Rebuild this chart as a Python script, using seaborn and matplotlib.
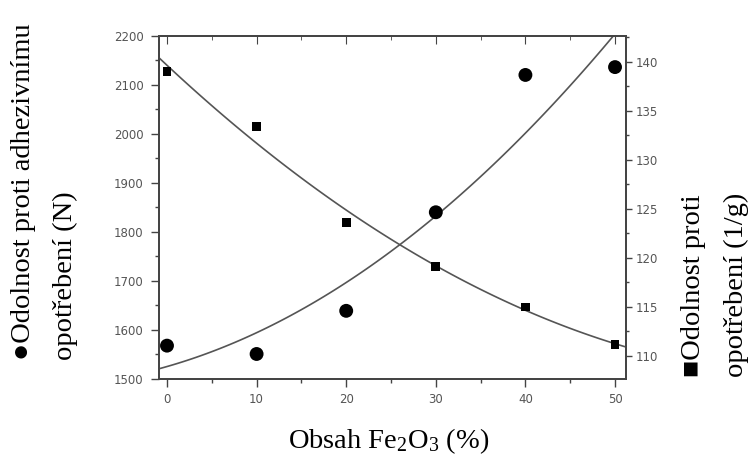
import numpy as np
import pandas as pd
import matplotlib
matplotlib.use("Agg")
import matplotlib.pyplot as plt
from matplotlib.ticker import MultipleLocator
import seaborn as sns

# --- data ---
obsah_fe2o3 = [0, 10, 20, 30, 40, 50]                       # %
adhezni_N = [1568, 1551, 1639, 1840, 2120, 2136]            # circles, left axis
opotrebeni_1g = [139.0, 133.4, 123.6, 119.1, 115.0, 111.2]  # squares, right axis

df = pd.DataFrame({"x": obsah_fe2o3, "adh": adhezni_N, "opo": opotrebeni_1g})

sns.set_style("ticks")
plt.rcParams["font.family"] = ["Liberation Serif", "DejaVu Sans"]
plt.rcParams["mathtext.fontset"] = "custom"
plt.rcParams["mathtext.rm"] = "Liberation Serif"
plt.rcParams["text.color"] = "black"

fig = plt.figure(figsize=(7.54, 4.59), dpi=100)
ax = fig.add_axes([0.2109, 0.1743, 0.6194, 0.7479])
ax.set_xlim(-0.89, 51.23)
ax.set_ylim(1500, 2200)
ax2 = ax.twinx()
ax2.set_ylim(107.65, 142.65)

line_kw = {"color": "#555555", "lw": 1.2}

# fitted curves (quadratic), drawn by seaborn
sns.regplot(data=df, x="x", y="adh", order=2, ci=None, scatter=False,
            truncate=False, line_kws=line_kw, ax=ax)
sns.regplot(data=df, x="x", y="opo", order=2, ci=None, scatter=False,
            truncate=False, line_kws=line_kw, ax=ax2)

# measured points
sns.scatterplot(data=df, x="x", y="adh", marker="o", s=100, color="black",
                edgecolor="none", ax=ax, zorder=5)
sns.scatterplot(data=df, x="x", y="opo", marker="s", s=40, color="black",
                edgecolor="none", ax=ax2, zorder=5)

ax.set_xlim(-0.89, 51.23)
ax.set_ylim(1500, 2200)
ax2.set_ylim(107.65, 142.65)

for a in (ax, ax2):
    a.set_xlabel("")
    a.set_ylabel("")
    for sp in a.spines.values():
        sp.set_color("#444444")
        sp.set_linewidth(1.3)

ax.xaxis.set_major_locator(MultipleLocator(10))
ax.xaxis.set_minor_locator(MultipleLocator(5))
ax.yaxis.set_major_locator(MultipleLocator(100))
ax.yaxis.set_minor_locator(MultipleLocator(50))
ax2.yaxis.set_major_locator(MultipleLocator(5))
ax2.yaxis.set_minor_locator(MultipleLocator(2.5))

ax.tick_params(axis="both", which="major", length=6, width=1, color="#444444",
               labelcolor="#555555", pad=4)
ax.tick_params(axis="both", which="minor", length=3, width=1, color="#444444")
ax.tick_params(axis="y", pad=5)
ax2.tick_params(axis="y", which="major", length=4, width=1, color="#444444",
                labelcolor="#555555", pad=3)
ax2.tick_params(axis="y", which="minor", length=2.5, width=1, color="#444444")
for lab in ax.get_xticklabels() + ax.get_yticklabels() + ax2.get_yticklabels():
    lab.set_fontfamily("DejaVu Sans")
    lab.set_fontsize(8.5)

# inward ticks along the top edge
top = ax.secondary_xaxis("top")
top.xaxis.set_major_locator(MultipleLocator(10))
top.xaxis.set_minor_locator(MultipleLocator(5))
top.tick_params(which="major", direction="in", length=6, color="#444444", labeltop=False)
top.tick_params(which="minor", direction="in", length=3, color="#444444")
top.spines["top"].set_visible(False)

# axis titles
lab_kw = {"rotation": 90, "ha": "center", "va": "bottom", "fontsize": 20.5,
          "color": "black", "family": ["Liberation Serif", "DejaVu Sans"]}
fig.text(24 / 754, 1 - 360 / 459, "\u25cfOdolnost proti adhezivnímu", **lab_kw)
fig.text(65 / 754, 1 - 360 / 459, "opotřebení (N)", **lab_kw)
fig.text(694 / 754, 1 - 377 / 459, "\u25a0Odolnost proti", **lab_kw)
fig.text(736 / 754, 1 - 377 / 459, "opotřebení (1/g)", **lab_kw)
fig.text(389 / 754, 1 - 441 / 459, r"Obsah Fe$\mathregular{_2}$O$\mathregular{_3}$ (%)",
         ha="center", va="center", fontsize=20.5, color="black")

fig.savefig("out.png", dpi=100)
